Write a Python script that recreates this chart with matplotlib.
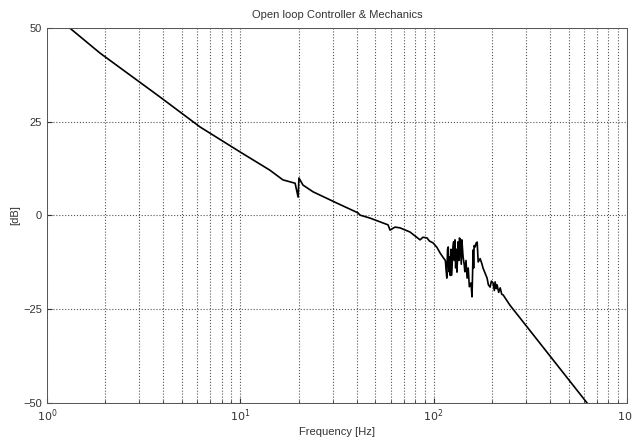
import matplotlib
matplotlib.use('Agg')
import matplotlib.pyplot as plt
from matplotlib.ticker import LogLocator, NullFormatter, FixedLocator

plt.rcParams['font.family'] = ['Liberation Sans', 'DejaVu Sans']

# magnitude response
freq = [1.0, 1.31, 1.88, 3.84, 6.19, 10.0, 14.2, 16.6, 19.2, 19.9, 20.1, 21.1, 23.8,
        31.6, 40.6, 41.6, 46.9, 58.1, 59.5, 63.1, 67.0, 75.4, 85.1, 88, 92.5, 95,
        99.3, 104, 108, 112, 115, 116, 117, 118, 119, 120, 121, 122, 123, 124,
        126, 127, 128, 129, 130, 131, 132, 134, 135, 136, 137, 139, 140, 142,
        144, 145, 147, 149, 151, 153, 156, 158, 160, 161, 162, 164, 166, 168,
        170, 174, 178, 180, 185, 189, 192, 196, 199, 203, 206, 208, 211, 213,
        217, 221, 225, 229, 248, 622, 700]
mag = [54.8, 50.0, 43.3, 31.6, 23.6, 16.9, 12.1, 9.5, 8.6, 4.9, 10.0, 8.1, 6.3,
       3.3, 0.7, 0.1, -0.7, -2.5, -3.9, -3.1, -3.3, -4.4, -6.5, -5.8, -6.0, -6.8,
       -7.3, -8.5, -10.0, -11.2, -12.0, -14.5, -16.7, -9.0, -8.4, -15.0, -11.0, -16.0, -9.0, -15.9,
       -8.0, -7.0, -12.0, -6.5, -14.0, -9.0, -15.1, -7.0, -12.0, -6.0, -6.3, -13.0, -6.5, -11.0,
       -13.2, -15.0, -12.0, -16.7, -14.0, -19.0, -18.0, -21.7, -9.2, -14.0, -8.0, -8.4, -7.3, -7.1,
       -12.4, -11.5, -13.0, -14.0, -15.5, -16.7, -18.5, -19.1, -17.5, -18.0, -20.0, -17.7, -19.5, -18.5,
       -20.5, -19.3, -21.0, -21.2, -23.9, -50.0, -53.3]

yticks = [-50, -25, 0, 25, 50]
xticks = [1, 10, 100, 1000]
xticklabels = ['$10^0$', '$10^1$', '$10^2$', '$10^3$']

fig = plt.figure(figsize=(6.32, 4.37), dpi=100)
ax = fig.add_axes([0.0744, 0.0778, 0.9176, 0.8582])

ax.semilogx(freq, mag, color='black', linewidth=1.2)

ax.set_xlim(1, 1000)
ax.set_ylim(-50, 50)
ax.set_yticks(yticks)
ax.xaxis.set_major_locator(FixedLocator(xticks))
ax.set_xticklabels(xticklabels)
ax.xaxis.set_minor_locator(LogLocator(base=10, subs=range(2, 10)))
ax.xaxis.set_minor_formatter(NullFormatter())

ax.grid(True, which='major', axis='both', linestyle=':', color='#555555', linewidth=0.8)
ax.grid(True, which='minor', axis='x', linestyle=':', color='#555555', linewidth=0.8)

ax.tick_params(which='both', direction='in', labelsize=8, colors='#333333')
for s in ax.spines.values():
    s.set_linewidth(0.7)
    s.set_color('#555555')

ax.set_title('Open loop Controller & Mechanics', fontsize=8, color='#333333', pad=7)
ax.set_xlabel('Frequency [Hz]', fontsize=8, color='#333333', labelpad=2)
ax.set_ylabel('[dB]', fontsize=8, color='#333333', labelpad=2)

fig.savefig('out.png', dpi=100)
